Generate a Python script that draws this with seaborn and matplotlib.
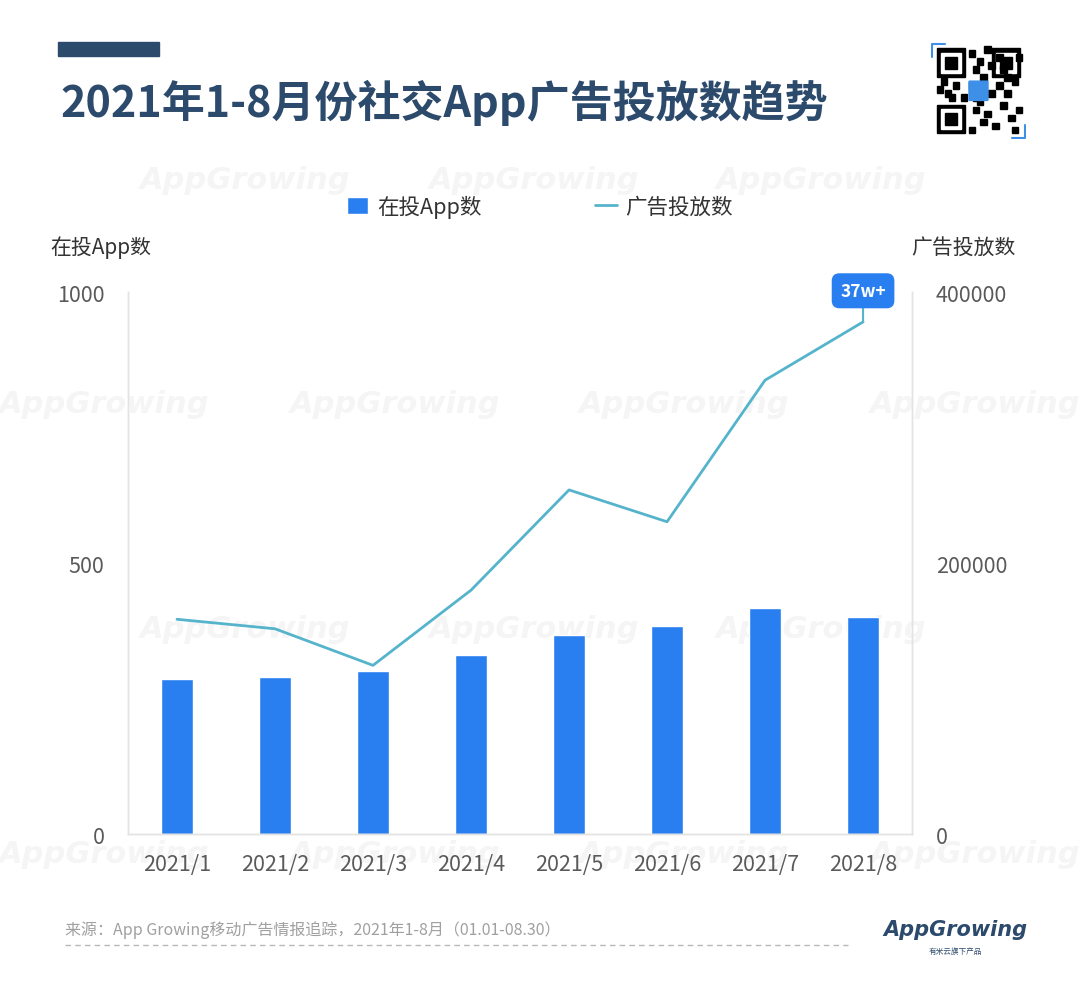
import numpy as np
import pandas as pd
import matplotlib
matplotlib.use('Agg')
import matplotlib.pyplot as plt
from matplotlib.patches import FancyBboxPatch, Rectangle
import seaborn as sns

# data
months = ['2021/1', '2021/2', '2021/3', '2021/4', '2021/5', '2021/6', '2021/7', '2021/8']
app_count = [286, 290, 300, 330, 368, 383, 417, 401]
ad_count = [158500, 151500, 124500, 180000, 254000, 230500, 335000, 378000]

df = pd.DataFrame({'month': months, 'apps': app_count, 'ads': ad_count})

sns.set_theme(style='white')
plt.rcParams['font.family'] = ['Noto Sans CJK SC', 'DejaVu Sans']

navy = '#2c4a6b'
blue = '#2a7ff0'
teal = '#55b4cc'
grey = '#5a5a5a'

fig = plt.figure(figsize=(10.8, 9.87), dpi=100)
fig.patch.set_facecolor('white')

# faint watermarks behind everything
wm_rows = [(0.817, [0.227, 0.495, 0.76]), (0.590, [0.097, 0.366, 0.634, 0.903]),
           (0.362, [0.227, 0.495, 0.76]), (0.134, [0.097, 0.366, 0.634, 0.903])]
for yy, xs in wm_rows:
    for xx in xs:
        fig.text(xx, yy, 'AppGrowing', fontsize=22, color='#f5f5f5', style='italic',
                 fontweight='bold', ha='center', va='center', zorder=-10,
                 family=['DejaVu Sans'])

ax = fig.add_axes([0.1185, 0.154, 0.726, 0.549])
ax.set_facecolor('none')
sns.barplot(data=df, x='month', y='apps', color=blue, width=0.33, saturation=1,
            ax=ax, zorder=2, label='在投App数')
ax.set_ylim(0, 1000)
ax.set_yticks([0, 500, 1000])
ax.set_xlabel('')
ax.set_ylabel('')

ax2 = ax.twinx()
sns.lineplot(data=df, x='month', y='ads', color=teal, linewidth=2, sort=False,
             ax=ax2, label='广告投放数')
ax2.set_ylim(0, 400000)
ax2.set_yticks([0, 200000, 400000])
ax2.set_ylabel('')
ax.set_xlim(-0.5, 7.5)

for a in (ax, ax2):
    for s in a.spines.values():
        s.set_color('#e3e3e3')
        s.set_linewidth(1)
    a.spines['top'].set_visible(False)
    a.tick_params(length=0, labelsize=15.5, labelcolor=grey)
ax.tick_params(axis='y', pad=17)
ax.tick_params(axis='x', pad=14)
ax2.tick_params(axis='y', pad=17)

# legend
h1, l1 = ax.get_legend_handles_labels()
h2, l2 = ax2.get_legend_handles_labels()
if ax.get_legend() is not None:
    ax.get_legend().remove()
if ax2.get_legend() is not None:
    ax2.get_legend().remove()
fig.legend(h1 + h2, l1 + l2, loc='center', bbox_to_anchor=(0.5, 0.79), ncol=2,
           frameon=False, fontsize=15.5, columnspacing=5.3, handlelength=1.0,
           handletextpad=0.4, handleheight=0.8, labelcolor='#333333')

# axis titles
fig.text(0.093, 0.749, '在投App数', fontsize=15, color='#333333', ha='center', va='center')
fig.text(0.892, 0.749, '广告投放数', fontsize=15, color='#333333', ha='center', va='center')

# last point label
last_x = len(months) - 1
ax2.annotate('37w+', xy=(last_x, ad_count[-1]), xytext=(last_x, ad_count[-1] + 23000),
             ha='center', va='center', fontsize=12.5, fontweight='bold', color='white',
             bbox=dict(boxstyle='round,pad=0.45,rounding_size=0.4', fc=blue, ec=blue),
             arrowprops=dict(arrowstyle='-', color=teal, lw=1.5, shrinkA=0, shrinkB=0))

# title block
fig.patches.append(Rectangle((0.054, 0.942), 0.093, 0.014, transform=fig.transFigure,
                             color=navy, zorder=3))
fig.text(0.056, 0.896, '2021年1-8月份社交App广告投放数趋势', fontsize=31, fontweight='bold',
         color=navy, ha='left', va='center')

# QR code stand-in
qr = fig.add_axes([0.862, 0.858, 0.088, 0.098])
qr.set_xlim(-1.5, 22.5)
qr.set_ylim(-1.5, 22.5)
qr.axis('off')
for cx, cy in [(0, 14), (14, 14), (0, 0)]:
    qr.add_patch(Rectangle((cx, cy), 7, 7, color='black'))
    qr.add_patch(Rectangle((cx + 1, cy + 1), 5, 5, color='white'))
    qr.add_patch(Rectangle((cx + 2, cy + 2), 3, 3, color='black'))
blocks = [(8, 19), (10, 17), (12, 20), (9, 15), (11, 13), (8, 11), (13, 9), (15, 11),
          (17, 9), (19, 12), (16, 6), (18, 3), (14, 1), (9, 5), (11, 2), (19, 0),
          (2, 9), (4, 11), (6, 8), (1, 12), (16, 15), (9, 8), (20, 5), (13, 16),
          (8, 0), (10, 7), (12, 4), (15, 18), (17, 13), (3, 8), (0, 10), (20, 18)]
for bx, by in blocks:
    qr.add_patch(Rectangle((bx, by), 1.6, 1.6, color='black'))
qr.add_patch(FancyBboxPatch((8.3, 8.3), 4.4, 4.4, boxstyle='round,pad=0.2', color='#3d8fe8'))
qr.plot([-1.2, -1.2, 2], [19, 22.2, 22.2], color='#3d8fe8', lw=1.5)
qr.plot([19, 22.2, 22.2], [-1.2, -1.2, 2], color='#3d8fe8', lw=1.5)

# footer
fig.text(0.06, 0.058, '来源：App Growing移动广告情报追踪，2021年1-8月（01.01-08.30）',
         fontsize=11.5, color='#a0a0a0', ha='left', va='center')
fig.add_artist(plt.Line2D([0.06, 0.785], [0.042, 0.042], transform=fig.transFigure,
                          color='#b8b8b8', linestyle=(0, (4, 3)), linewidth=1))
fig.text(0.885, 0.058, 'AppGrowing', fontsize=15, fontweight='bold', style='italic',
         color=navy, ha='center', va='center', family=['DejaVu Sans'])
fig.text(0.885, 0.036, '有米云旗下产品', fontsize=5.5, color=navy, ha='center', va='center')

fig.savefig('out.png', dpi=100, facecolor='white')
